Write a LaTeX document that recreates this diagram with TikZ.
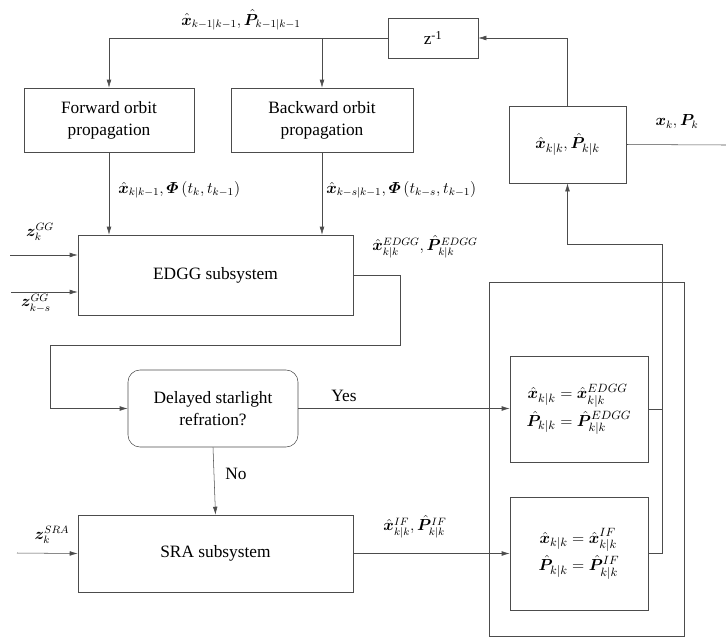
\documentclass[tikz,border=0pt]{standalone}
\usepackage{amsmath, amssymb, bm}
\usepackage{fontspec}
\setmainfont{Liberation Serif}
\usetikzlibrary{positioning, arrows.meta, calc}

\begin{document}
\begin{tikzpicture}[
    x=0.75pt, y=-0.75pt,
    block/.style={rectangle, draw=black!70, align=center,
                  font=\fontsize{13}{16.5}\selectfont, inner sep=2pt},
    decision/.style={block, rounded corners=9pt},
    arrow/.style={draw=black!70, -{Latex[length=6pt, width=3.5pt]}},
    line/.style={draw=black!70},
    lbl/.style={font=\large, inner sep=0pt}
]
    \useasboundingbox (0,0) rectangle (726,637);

    % boxes
    \node[block, minimum width=67.5pt, minimum height=30pt]     (zinv) at (433,38)    {z\textsuperscript{-1}};
    \node[block, minimum width=127.5pt, minimum height=48pt]    (fwd)  at (109,120)   {Forward orbit\\propagation};
    \node[block, minimum width=136.5pt, minimum height=48pt]    (bwd)  at (322,120)   {Backward orbit\\propagation};
    \node[block, minimum width=87.75pt, minimum height=57.75pt] (est)  at (567.5,144.5) {$\hat{\bm{x}}_{k|k},\hat{\bm{P}}_{k|k}$};
    \node[block, minimum width=206.25pt, minimum height=60pt]   (edgg) at (215.5,275) {EDGG subsystem};
    \node[decision, minimum width=127.5pt, minimum height=57.75pt] (dec) at (213,408.5) {Delayed starlight\\refration?};
    \node[block, minimum width=206.25pt, minimum height=57.75pt] (sra) at (215.5,553.5) {SRA subsystem};
    \node[block, minimum width=146.25pt, minimum height=265.5pt] (outer) at (586.5,459) {};
    \node[block, minimum width=103.5pt, minimum height=79.5pt]  (sel1) at (579,409)
        {$\begin{aligned}\hat{\bm{x}}_{k|k}&=\hat{\bm{x}}_{k|k}^{EDGG}\\[-1pt]
          \hat{\bm{P}}_{k|k}&=\hat{\bm{P}}_{k|k}^{EDGG}\end{aligned}$};
    \node[block, minimum width=103.5pt, minimum height=84.75pt] (sel2) at (579,553.5)
        {$\begin{aligned}\hat{\bm{x}}_{k|k}&=\hat{\bm{x}}_{k|k}^{IF}\\[-1pt]
          \hat{\bm{P}}_{k|k}&=\hat{\bm{P}}_{k|k}^{IF}\end{aligned}$};

    % free ends
    \coordinate (in1) at (10,255);
    \coordinate (in2) at (11,292);
    \coordinate (in3) at (17,553);
    \coordinate (out) at (726,145);
    \coordinate (fb)  at (662,244);

    % labels
    \node[lbl] (lprev) at (241,20)  {$\hat{\bm{x}}_{k-1|k-1},\hat{\bm{P}}_{k-1|k-1}$};
    \node[lbl, anchor=west] (lfwd) at (118,190) {$\hat{\bm{x}}_{k|k-1},\bm{\varPhi}\left(t_k,t_{k-1}\right)$};
    \node[lbl, anchor=west] (lbwd) at (326,190) {$\hat{\bm{x}}_{k-s|k-1},\bm{\varPhi}\left(t_{k-s},t_{k-1}\right)$};
    \node[lbl] (ledgg) at (425,247) {$\hat{\bm{x}}_{k|k}^{EDGG},\hat{\bm{P}}_{k|k}^{EDGG}$};
    \node[lbl] (lout)  at (677,122) {$\bm{x}_k,\bm{P}_k$};
    \node[lbl] (lif)   at (415,527) {$\hat{\bm{x}}_{k|k}^{IF},\hat{\bm{P}}_{k|k}^{IF}$};
    \node[lbl, font=\fontsize{13}{16.5}\selectfont] (lyes) at (344,396) {Yes};
    \node[lbl, font=\fontsize{13}{16.5}\selectfont] (lno)  at (236,474) {No};
    \node[lbl] (lz1)   at (40,232)  {$\bm{z}_k^{GG}$};
    \node[lbl] (lz2)   at (36,303)  {$\bm{z}_{k-s}^{GG}$};
    \node[lbl] (lz3)   at (52,535)  {$\bm{z}_k^{SRA}$};

    % connectors
    \draw[arrow] (est.north) |- (zinv.east);
    \draw[arrow] (zinv.west) -| (fwd.north);
    \draw[arrow] (bwd.north |- zinv.west) -- (bwd.north);
    \draw[arrow] (fwd.south) -- (fwd.south |- edgg.north);
    \draw[arrow] (bwd.south) -- (bwd.south |- edgg.north);
    \draw[arrow] (in1) -- (edgg.west |- in1);
    \draw[arrow] (in2) -- (edgg.west |- in2);
    \draw[arrow] (edgg.east) -- (400,275) -- (400,345) -- (50,345) -- (50,408.5) -- (dec.west);
    \draw[arrow] (dec.east) -- (sel1.west |- dec.east);
    \draw[arrow] (dec.south) -- (sra.north);
    \draw[arrow] (in3) -- (sra.west);
    \draw[arrow] (sra.east) -- (sel2.west);
    \draw[line]  (sel1.east) -| (fb);
    \draw[line]  (sel2.east) -| (fb);
    \draw[arrow] (fb) -| (est.south);
    \draw[line]  (est.east) -- (out);
\end{tikzpicture}
\end{document}
